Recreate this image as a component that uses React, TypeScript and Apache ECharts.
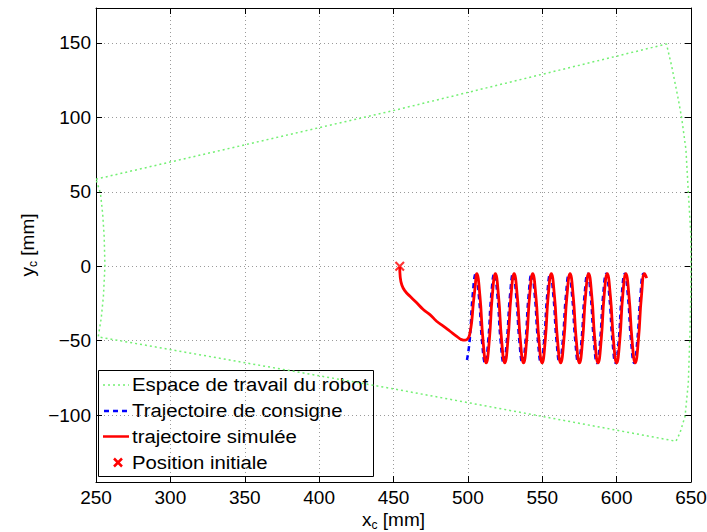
import React, { useEffect, useRef } from "react";
import * as echarts from "echarts";

const FONT = "'Liberation Sans', Arial, Helvetica, sans-serif";

const xRange = [250, 650];
const yRange = [-145, 173.5];

const legendLabels = [
  "Espace de travail du robot",
  "Trajectoire de consigne",
  "trajectoire simulée",
  "Position initiale",
];

// Workspace boundary (closed contour)
const workspace: number[][] = [
  [250, 58.5], [450, 104.6], [633.5, 149.3],
  [637, 134.5], [641.5, 112], [643.7, 99.8], [646.6, 78.4], [648.2, 49.7],
  [649.8, 22.4], [650, 0], [649.8, -22], [649.3, -44.8], [648.2, -78.4],
  [646, -100.8], [642.6, -112], [639.9, -117.6],
  [450, -82.4], [251.5, -47.5],
  [253.5, -35], [255, -20], [256, 0], [255.5, 20], [254.5, 35], [253, 49], [250, 58.5],
];

// Reference trajectory (consigne)
const consigne: number[][] = [
  [499.4, -63], [501.2, -50], [503.2, -20],
  [505.3, -5], [507.4, -20], [509.5, -50], [511.6, -65], [513.7, -50], [515.7, -20],
  [517.8, -5], [519.9, -20], [522, -50], [524.1, -65], [526.2, -50], [528.3, -20],
  [530.4, -5], [532.5, -20], [534.6, -50], [536.7, -65], [538.8, -50], [540.8, -20],
  [542.9, -5], [545, -20], [547.1, -50], [549.2, -65], [551.3, -50], [553.3, -20],
  [555.4, -5], [557.5, -20], [559.6, -50], [561.7, -65], [563.8, -50], [565.9, -20],
  [568, -5], [570.1, -20], [572.2, -50], [574.3, -65], [576.4, -50], [578.4, -20],
  [580.5, -5], [582.6, -20], [584.7, -50], [586.8, -65], [588.9, -50], [590.9, -20],
  [593, -5], [595.1, -20], [597.2, -50], [599.3, -65], [601.4, -50], [603.4, -20],
  [605.5, -5], [607.6, -20], [609.7, -50], [611.8, -65], [613.9, -50], [616, -20],
  [618.1, -5], [619.6, -9],
];

// Simulated trajectory
const simulee: number[][] = [
  [454.2, -0.5], [454.5, -7], [455.6, -12.6], [457.7, -16.6], [461.1, -20.2],
  [465.6, -24.6], [470, -29.1], [474.5, -32.5], [479, -37], [483.5, -40.3],
  [488, -43.7], [492.5, -47.1], [495.8, -49.3], [498.1, -49.7], [500.3, -48.2],
  [501.4, -44.8], [502.6, -37], [503.6, -25.7], [504.8, -14.6],
  [506, -5], [508.1, -20], [510.2, -50], [512.3, -65], [514.4, -50], [516.4, -20],
  [518.5, -5], [520.6, -20], [522.7, -50], [524.8, -65], [526.9, -50], [529, -20],
  [531.1, -5], [533.2, -20], [535.3, -50], [537.4, -65], [539.5, -50], [541.5, -20],
  [543.6, -5], [545.7, -20], [547.8, -50], [549.9, -65], [552, -50], [554, -20],
  [556.1, -5], [558.2, -20], [560.3, -50], [562.4, -65], [564.5, -50], [566.6, -20],
  [568.7, -5], [570.8, -20], [572.9, -50], [575, -65], [577.1, -50], [579.1, -20],
  [581.2, -5], [583.3, -20], [585.4, -50], [587.5, -65], [589.6, -50], [591.6, -20],
  [593.7, -5], [595.8, -20], [597.9, -50], [600, -65], [602.1, -50], [604.1, -20],
  [606.2, -5], [608.3, -20], [610.4, -50], [612.5, -65], [614.6, -50], [616.7, -20],
  [618.8, -5], [620.2, -8],
];

const initialPosition: number[][] = [[454.2, 0]];

const GREEN = "#74f074";
const BLUE = "#0000ff";
const RED = "#ff0000";

const X_PATH =
  "path://M1.5,0 L5,3.5 L8.5,0 L10,1.5 L6.5,5 L10,8.5 L8.5,10 L5,6.5 L1.5,10 L0,8.5 L3.5,5 L0,1.5 Z";

const minusFmt = (v: number) => String(v).replace("-", "\u2212");

export default function App() {
  const ref = useRef<HTMLDivElement>(null);

  useEffect(() => {
    if (!ref.current) return;
    const chart = echarts.init(ref.current, undefined, { renderer: "svg" });

    const nameStyle = {
      color: "#000",
      fontFamily: FONT,
      rich: {
        n: { fontSize: 19, fontFamily: FONT, color: "#000" },
        s: { fontSize: 12, fontFamily: FONT, color: "#000", padding: [12, 0, 0, 0] },
      },
    };

    const axisLine = { show: true, onZero: false, lineStyle: { color: "#000", width: 1 } };
    const axisTick = { show: true, inside: true, length: 6, lineStyle: { color: "#000", width: 1 } };
    const splitLine = { show: true, lineStyle: { color: "#9a9a9a", width: 1, type: [1, 3] } };

    const legendRows = [385, 411, 436.5, 462.5];
    const legendGraphic: any[] = [
      {
        type: "rect",
        shape: { x: 98.5, y: 370.5, width: 275, height: 106 },
        style: { fill: "#fff", stroke: "#000", lineWidth: 1 },
      },
      {
        type: "line",
        shape: { x1: 103, y1: legendRows[0], x2: 129, y2: legendRows[0] },
        style: { stroke: GREEN, lineWidth: 1.5, lineDash: [2, 3] },
      },
      {
        type: "line",
        shape: { x1: 104, y1: legendRows[1], x2: 129, y2: legendRows[1] },
        style: { stroke: BLUE, lineWidth: 2.5, lineDash: [5, 4] },
      },
      {
        type: "line",
        shape: { x1: 103, y1: legendRows[2], x2: 129, y2: legendRows[2] },
        style: { stroke: RED, lineWidth: 2.5 },
      },
      {
        type: "line",
        shape: { x1: 114, y1: legendRows[3] - 4, x2: 122, y2: legendRows[3] + 4 },
        style: { stroke: RED, lineWidth: 2.5 },
      },
      {
        type: "line",
        shape: { x1: 114, y1: legendRows[3] + 4, x2: 122, y2: legendRows[3] - 4 },
        style: { stroke: RED, lineWidth: 2.5 },
      },
      ...legendLabels.map((t, i) => ({
        type: "text",
        x: 132,
        y: legendRows[i],
        scaleX: 1.13,
        style: {
          text: t,
          fill: "#000",
          fontSize: 18,
          fontFamily: FONT,
          align: "left",
          verticalAlign: "middle",
        },
      })),
    ];

    chart.setOption({
      animation: false,
      backgroundColor: "#fff",
      grid: {
        left: 96,
        right: 16,
        top: 8,
        bottom: 50,
        containLabel: false,
        outerBoundsMode: "none",
      },
      xAxis: [
        {
          type: "value",
          position: "bottom",
          min: xRange[0],
          max: xRange[1],
          interval: 50,
          axisLine,
          axisTick,
          splitLine,
          axisLabel: { fontSize: 19, fontFamily: FONT, color: "#000", margin: 6 },
          name: "{n|x}{s|c}{n| [mm]}",
          nameLocation: "middle",
          nameGap: 25,
          nameMoveOverlap: false,
          nameTextStyle: nameStyle,
        },
        {
          type: "value",
          position: "top",
          min: xRange[0],
          max: xRange[1],
          interval: 50,
          axisLine,
          axisTick,
          splitLine: { show: false },
          axisLabel: { show: false },
        },
      ],
      yAxis: [
        {
          type: "value",
          position: "left",
          min: yRange[0],
          max: yRange[1],
          splitNumber: 6,
          minInterval: 50,
          maxInterval: 50,
          axisLine,
          axisTick,
          splitLine,
          axisLabel: {
            fontSize: 19,
            fontFamily: FONT,
            color: "#000",
            margin: 5,
            showMinLabel: false,
            showMaxLabel: false,
            formatter: minusFmt,
          },
          name: "{n|y}{s|c}{n| [mm]}",
          nameLocation: "middle",
          nameGap: 57,
          nameMoveOverlap: false,
          nameTextStyle: nameStyle,
        },
        {
          type: "value",
          position: "right",
          min: yRange[0],
          max: yRange[1],
          splitNumber: 6,
          minInterval: 50,
          maxInterval: 50,
          axisLine,
          axisTick,
          splitLine: { show: false },
          axisLabel: { show: false },
        },
      ],
      series: [
        {
          name: legendLabels[0],
          type: "line",
          data: workspace,
          showSymbol: false,
          symbol: "none",
          lineStyle: { color: GREEN, width: 1.5, type: [2, 3] },
          z: 2,
        },
        {
          name: legendLabels[1],
          type: "line",
          data: consigne,
          showSymbol: false,
          symbol: "none",
          smooth: 0.5,
          lineStyle: { color: BLUE, width: 2.5, type: [5, 4] },
          z: 3,
        },
        {
          name: legendLabels[2],
          type: "line",
          data: simulee,
          showSymbol: false,
          symbol: "none",
          smooth: 0.5,
          lineStyle: { color: RED, width: 2.8 },
          z: 4,
        },
        {
          name: legendLabels[3],
          type: "scatter",
          data: initialPosition,
          symbol: X_PATH,
          symbolSize: 10,
          itemStyle: { color: RED },
          z: 5,
        },
      ],
      graphic: { elements: [{ type: "group", z: 100, children: legendGraphic }] },
    });

    return () => chart.dispose();
  }, []);

  return (
    <div
      ref={ref}
      style={{ position: "fixed", left: 0, top: 0, width: 707, height: 532, background: "#fff" }}
    />
  );
}
